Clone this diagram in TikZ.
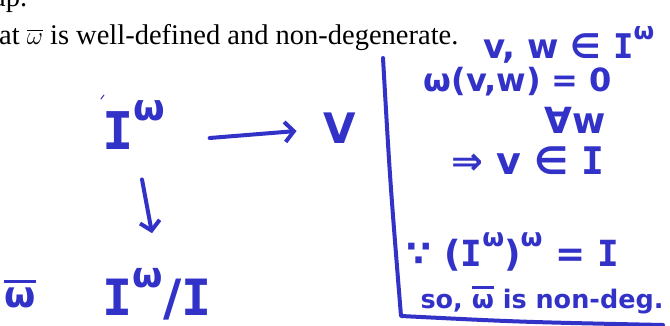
\documentclass[tikz,border=0pt]{standalone}
\usepackage{amsmath,amssymb}
\usepackage{graphicx}
\usepackage{fontspec}
\setmainfont{Liberation Serif}
\newfontfamily\hwfont{DejaVu Sans}
\newfontfamily\hwmono{DejaVu Sans Mono}
\usetikzlibrary{arrows.meta,calc}
\definecolor{hblue}{RGB}{50,50,200}
\newcommand\hsup[1]{\raisebox{0.55em}{\scalebox{0.7}{#1}}}
\newcommand\hI{{\hwmono\bfseries I}}
\newcommand\myomegabar{\vbox{\hrule height 3pt\kern 5pt\hbox{ω}}}
\begin{document}
\begin{tikzpicture}[x=1pt,y=-1pt,
  prose/.style={font=\fontsize{28.5}{32}\selectfont, inner sep=0, anchor=base west},
  hw/.style={text=hblue, inner sep=0, font=\hwfont\bfseries\fontsize{#1}{#1}\selectfont},
  hw/.default=34,
  stroke/.style={draw=hblue, line width=4pt, line cap=round, line join=round},
  harrow/.style={stroke, -{Straight Barb[length=9pt,width=20pt,line width=4pt]}}]
\useasboundingbox (0,0) rectangle (670,326);
% printed text
\node[prose] (l0) at (-7,7) {ap.};
\node[prose] (l1) at (-1,45) {at $\overline{\omega}$ is well-defined and non-degenerate.};
% handwritten notes on the right
\node[hw=34] (vw) at (569,45) {v, w ∈ \hI\hsup{ω}};
\node[hw=32] (e1) at (518,82) {ω(v,w) = 0};
\node[hw=36] (fa) at (575,120) {∀w};
\node[hw=38] (imp) at (528,161) {⇒ v ∈ \hI};
\node[hw=36] (bc) at (513,252) {∵ (\hI\hsup{ω})\hsup{ω} = \hI};
\node[hw=25.5] (so) at (542,300) {so, \myomegabar{} is non-deg.};
% diagram on the left
\node[hw=52] (Iw) at (134,125) {\hI\hsup{ω}};
\node[hw=42] (V) at (340,128) {V};
\node[hw=50] (Q) at (157,294) {\hI\hsup{ω}/\hI};
\node[hw=36] (wb) at (20,294) {\myomegabar};
\draw[harrow] ($(Iw.east)+(44,13)$) -- ($(V.west)+(-27,3)$);
\draw[harrow] ($(Iw.south)+(8,30)$) -- ($(Q.north)+(-5,-35)$);
\draw[hblue, line width=1pt, line cap=round] (101,99) -- (104,95);
% frame
\draw[stroke] (383,58) .. controls (390,180) .. (401,316) .. controls (520,322) .. (663,325);
\end{tikzpicture}
\end{document}
